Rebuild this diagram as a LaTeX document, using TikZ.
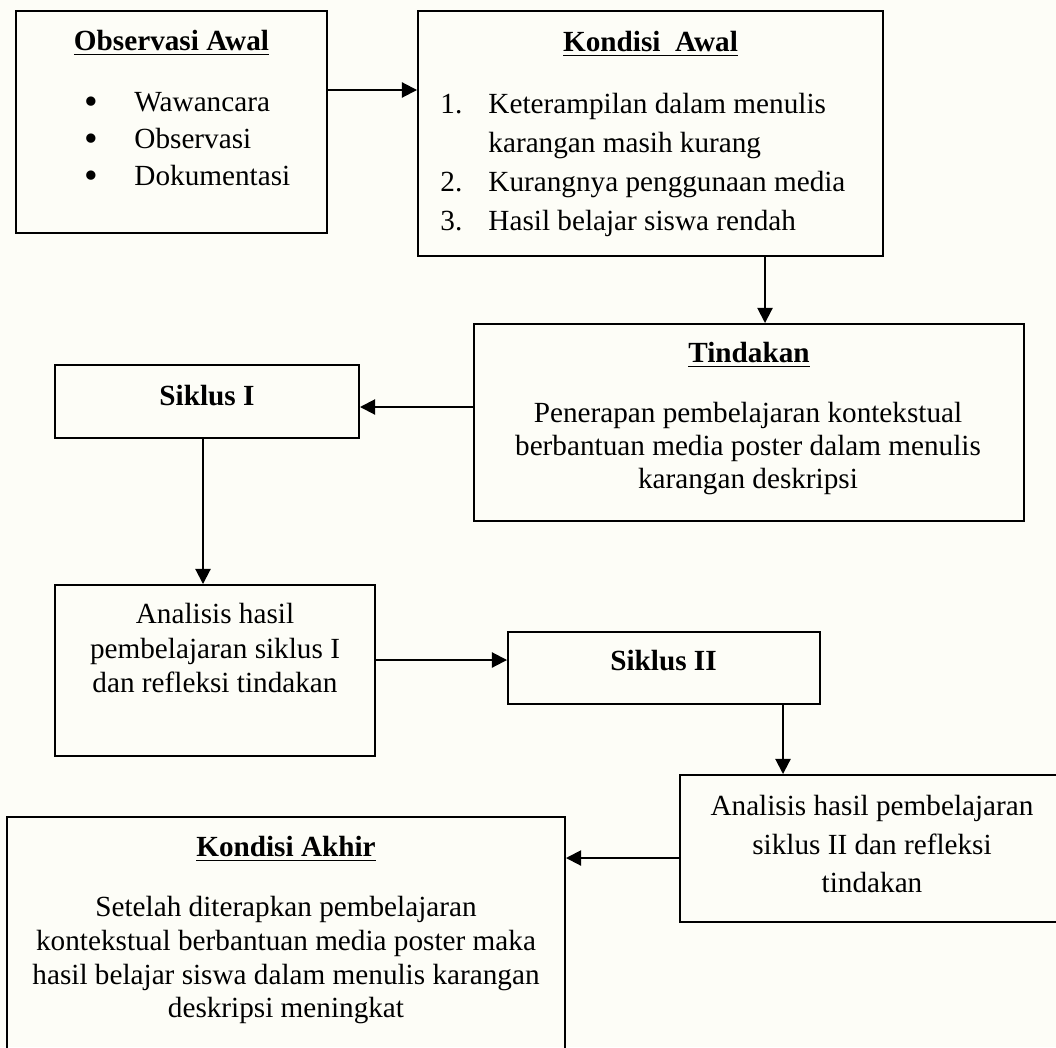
\documentclass[tikz,border=0pt]{standalone}
\usepackage{fontspec}
\setmainfont{Liberation Serif}
\usetikzlibrary{arrows.meta,fit}

\definecolor{bgcream}{RGB}{253,253,247}

\newcommand\dotitem{\makebox[35.3pt]{\raisebox{-1.3pt}{\fontsize{16}{16}\selectfont•}}}

\tikzset{
  box/.style={draw, line width=0.8pt, inner sep=0pt},
  head/.style={font=\fontsize{12}{13.5}\selectfont\bfseries, inner sep=0pt, anchor=north},
  body/.style={font=\fontsize{12}{13.5}\selectfont, inner sep=0pt, align=center, anchor=north},
  items/.style={font=\fontsize{12}{16}\selectfont, inner sep=0pt, align=left, anchor=north west},
  arrow/.style={line width=0.8pt, -{Triangle[length=6.2pt, width=6.2pt]}}
}

\begin{document}
\begin{tikzpicture}[x=0.01444cm, y=-0.01444cm]
    \useasboundingbox (0,0) rectangle (1056,1047);
    \clip (0,0) rectangle (1056,1047);
    \fill[bgcream] (0,0) rectangle (1056,1047);

    % boxes
    \node[box, fit={(16,11) (327,233)}] (obs) {};
    \node[box, fit={(418,11) (883,256)}] (kawal) {};
    \node[box, fit={(474,324) (1024,521)}] (tind) {};
    \node[box, fit={(55,365) (359,438)}] (sik1) {};
    \node[box, fit={(55,585) (375,756)}] (ana1) {};
    \node[box, fit={(508,632) (820,704)}] (sik2) {};
    \node[box, fit={(680,775) (1064,922)}] (ana2) {};
    \node[box, fit={(7,817) (565,1070)}] (kakhir) {};

    % texts
    \node[head] (obs-h) at (171.5,30) {\underline{Observasi Awal}};
    \node[items, font=\fontsize{12}{15.2}\selectfont] (obs-l) at (48,92)
        {\dotitem Wawancara\\ \dotitem Observasi\\ \dotitem Dokumentasi};

    \node[head] (kawal-h) at (650.5,31) {\underline{Kondisi\ \ Awal}};
    \node[items] (kawal-l) at (440,93)
        {\makebox[19.7pt][l]{1.}Keterampilan dalam menulis\\
         \hspace*{19.7pt}karangan masih kurang\\
         \makebox[19.7pt][l]{2.}Kurangnya penggunaan media\\
         \makebox[19.7pt][l]{3.}Hasil belajar siswa rendah};

    \node[head] (tind-h) at (749,342) {\underline{Tindakan}};
    \node[body] (tind-b) at (748,401.5)
        {Penerapan pembelajaran kontekstual\\berbantuan media poster dalam menulis\\karangan deskripsi};

    \node[head] (sik1-h) at (207,384.5) {Siklus I};
    \node[body, font=\fontsize{12}{14.2}\selectfont] (ana1-b) at (215,603)
        {Analisis hasil\\pembelajaran siklus I\\dan refleksi tindakan};

    \node[head] (sik2-h) at (663.5,650) {Siklus II};
    \node[body, font=\fontsize{12}{15.8}\selectfont] (ana2-b) at (872,795)
        {Analisis hasil pembelajaran\\siklus II dan refleksi\\tindakan};

    \node[head] (kakhir-h) at (286,836) {\underline{Kondisi Akhir}};
    \node[body, font=\fontsize{12}{13.85}\selectfont] (kakhir-b) at (286,896)
        {Setelah diterapkan pembelajaran\\kontekstual berbantuan media poster maka\\hasil belajar siswa dalam menulis karangan\\deskripsi meningkat};

    % connectors
    \coordinate (r1) at (0,90);
    \coordinate (c1) at (765,0);
    \coordinate (r2) at (0,407);
    \coordinate (c2) at (203,0);
    \coordinate (r3) at (0,660);
    \coordinate (c3) at (783,0);
    \coordinate (r4) at (0,858);

    \draw[arrow] (obs.east |- r1) -- (kawal.west |- r1);
    \draw[arrow] (kawal.south -| c1) -- (tind.north -| c1);
    \draw[arrow] (tind.west |- r2) -- (sik1.east |- r2);
    \draw[arrow] (sik1.south -| c2) -- (ana1.north -| c2);
    \draw[arrow] (ana1.east |- r3) -- (sik2.west |- r3);
    \draw[arrow] (sik2.south -| c3) -- (ana2.north -| c3);
    \draw[arrow] (ana2.west |- r4) -- (kakhir.east |- r4);
\end{tikzpicture}
\end{document}
